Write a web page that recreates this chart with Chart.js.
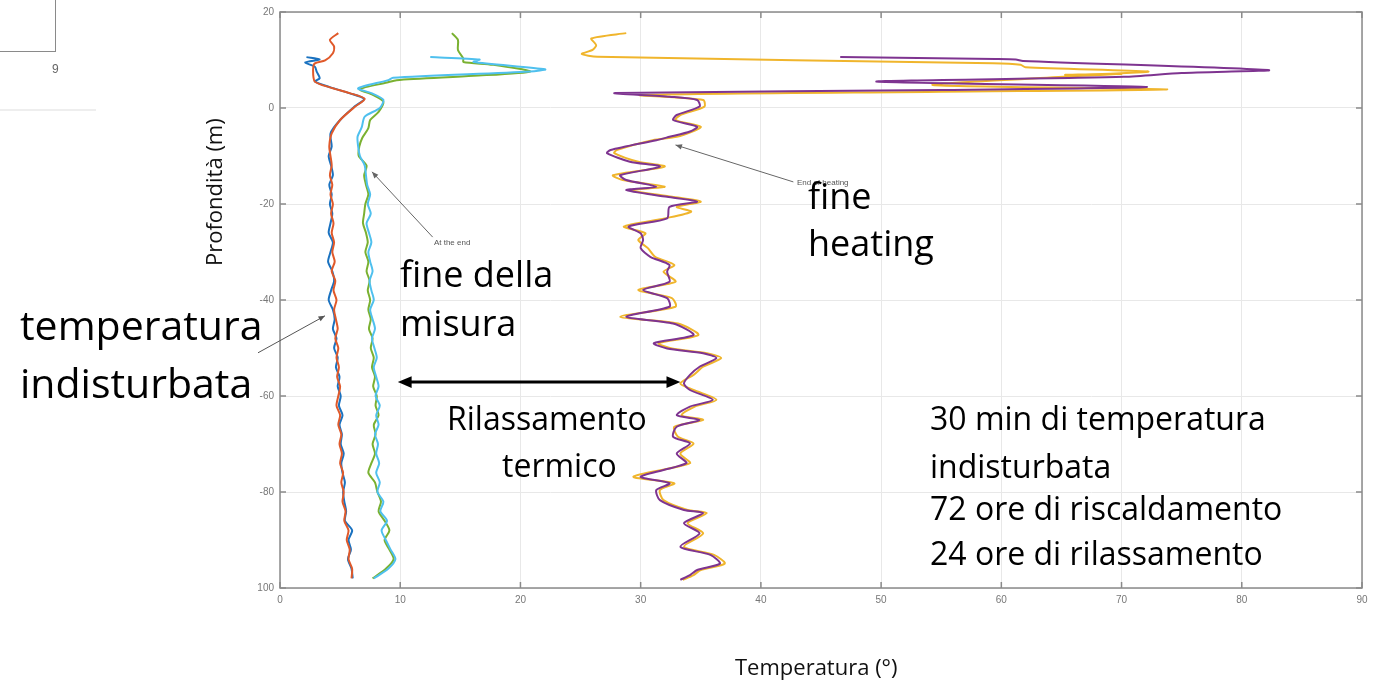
<!DOCTYPE html>
<html lang="it">
<head>
<meta charset="UTF-8">
<title>Profilo di temperatura</title>
<script src="https://cdn.jsdelivr.net/npm/chart.js"></script>
<style>
  * { margin: 0; padding: 0; }
  body { width: 1383px; height: 695px; background: #fff; position: relative; overflow: hidden; font-family: 'Open Sans', sans-serif; }
  #chart { position: absolute; left: 0; top: 0; }
  .note { position: absolute; color: #000; white-space: nowrap; line-height: 1; }
  .big { font-size: 41px; }
  .mid { font-size: 36px; }
  .small { font-size: 32px; }
  .axis-label { position: absolute; font-size: 22px; color: #111; white-space: nowrap; line-height: 1; }
  .frag-box { position: absolute; left: 0; top: 0; width: 55px; height: 51px; border-right: 1.5px solid #8a8a8a; border-bottom: 1.5px solid #8a8a8a; }
  .frag-num { position: absolute; left: 52px; top: 62px; font: 12px 'Liberation Sans', sans-serif; color: #666; }
  .frag-line { position: absolute; left: 0; top: 109px; width: 96px; height: 2px; background: #eee; }
</style>
</head>
<body>
  <canvas id="chart" width="1383" height="695"></canvas>

  <div class="frag-box"></div>
  <div class="frag-num">9</div>
  <div class="frag-line"></div>

  <div class="axis-label" id="ylab" style="left:136px; top:178px; transform: rotate(-90deg); transform-origin: 77px 11px;">Profondità (m)</div>
  <div class="axis-label" style="left:735px; top:655px;">Temperatura (°)</div>

  <div class="note big" style="left:20px; top:304px;">temperatura</div>
  <div class="note big" style="left:20px; top:362px;">indisturbata</div>

  <div class="note mid" style="left:400px; top:256px;">fine della</div>
  <div class="note mid" style="left:400px; top:305px;">misura</div>

  <div class="note mid" style="left:808px; top:178px;">fine</div>
  <div class="note mid" style="left:808px; top:225px;">heating</div>

  <div class="note small" style="left:447px; top:402px;">Rilassamento</div>
  <div class="note small" style="left:502px; top:449px;">termico</div>

  <div class="note small" style="left:930px; top:402px;">30 min di temperatura</div>
  <div class="note small" style="left:930px; top:450px;">indisturbata</div>
  <div class="note small" style="left:930px; top:492px;">72 ore di riscaldamento</div>
  <div class="note small" style="left:930px; top:537px;">24 ore di rilassamento</div>

<script>
// common depth grid (m) for the lower part of the slow profiles
const gridDepth = [-8, -10, -12, -14, -16, -18, -20, -22, -24, -26, -28, -30, -32, -34, -36, -38, -40, -42, -44, -46,
  -48, -50, -52, -54, -56, -58, -60, -62, -64, -66, -68, -70, -72, -74, -76, -78, -80, -82, -84, -86,
  -88, -90, -92, -94, -96, -98];

// undisturbed temperature (blue)
const blueTopDepth = [10.6, 10.1, 9.5, 8.6, 7.6, 6.2, 5.5, 4.3, 3.1, 1.9, 0.3, -2.5, -5.3];
const blueTopTemp  = [2.2, 3.3, 2.1, 2.9, 3.05, 3.3, 2.9, 4.2, 5.75, 7.0, 6.2, 5.0, 4.2];
const blueTemp = [4.3, 4.05, 4.25, 4.4, 4.1, 4.3, 4.15, 4.35, 4.2, 4.05, 4.4, 4.2, 4.0, 4.35, 4.5, 4.25, 4.05, 4.4, 4.55, 4.4,
  4.7, 4.5, 4.8, 4.65, 4.95, 4.8, 5.05, 4.9, 5.2, 4.95, 5.15, 5.05, 5.3, 5.1, 5.2, 5.4, 5.25, 5.35, 5.5, 5.4,
  6.0, 5.7, 5.9, 5.65, 5.95, 6.05];

// undisturbed temperature (orange)
const orangeTopDepth = [15.6, 14.2, 12.8, 11.4, 9.9, 9.3, 7.9, 5.5, 4.3, 3.1, 1.9, 0.3, -2.5, -5.3];
const orangeTopTemp  = [4.85, 4.15, 4.5, 4.4, 3.75, 2.9, 2.75, 2.9, 4.15, 5.8, 7.05, 6.25, 5.0, 4.3];
const orangeTemp = [4.1, 4.2, 4.3, 4.15, 4.35, 4.2, 4.4, 4.25, 4.45, 4.3, 4.5, 4.35, 4.55, 4.3, 4.6, 4.45, 4.7, 4.5, 4.65, 4.8,
  4.6, 4.85, 4.7, 4.9, 4.75, 5.0, 4.85, 4.7, 5.0, 4.85, 5.1, 4.95, 5.15, 5.0, 5.25, 5.1, 5.3, 5.2, 5.45, 5.35,
  5.7, 5.55, 5.8, 5.7, 6.0, 5.95];

// end of measurement (green)
const greenTopDepth = [15.6, 14.2, 12.1, 10.3, 9.6, 9.0, 7.6, 6.7, 5.8, 5.3, 3.9, 2.7, 1.3, -0.8, -2.5, -4.2, -6.2];
const greenTopTemp  = [14.3, 14.8, 14.8, 15.25, 15.25, 17.7, 20.8, 16.1, 9.7, 8.9, 6.65, 7.76, 8.6, 8.2, 7.5, 7.35, 6.85];
const greenTemp = [6.6, 6.55, 7.2, 7.0, 7.15, 7.35, 7.1, 7.0, 6.9, 7.15, 7.3, 7.1, 7.35, 7.2, 7.45, 7.3, 7.5, 7.35, 7.55, 7.4,
  7.7, 7.55, 7.8, 7.65, 7.9, 7.75, 8.05, 7.95, 8.2, 7.8, 7.95, 7.7, 7.9, 7.6, 7.35, 7.9, 8.1, 8.4, 8.2, 8.7,
  9.1, 8.7, 9.1, 9.45, 8.8, 7.7];

// end of measurement (light blue)
const cyanTopDepth = [10.6, 10.1, 9.6, 8.06, 7.6, 6.3, 5.8, 4.1, 3.1, 1.7, 0, -1.8, -4, -6];
const cyanTopTemp  = [12.5, 16.6, 16.1, 22.05, 20.8, 9.4, 9.0, 6.5, 7.6, 8.6, 8.3, 7.05, 6.8, 6.45];
const cyanTemp = [6.5, 6.65, 7.05, 7.15, 7.25, 7.5, 7.3, 7.55, 7.2, 7.4, 7.6, 7.35, 7.5, 7.7, 7.45, 7.6, 7.8, 7.5, 7.7, 7.9,
  7.65, 7.85, 8.05, 7.8, 8.0, 8.2, 7.95, 8.3, 8.0, 8.2, 7.9, 8.15, 8.0, 8.25, 8.0, 8.3, 8.1, 8.6, 8.35, 8.9,
  8.45, 8.8, 9.2, 9.6, 9.0, 7.8];

// end of heating (purple)
const purpleDepth = [10.6, 10.2, 10.1, 9.8, 7.9, 7.3, 6.5, 5.5, 4.4, 3.75, 3.1, 2.35, 1.67, 0.3, -1.46, -2.5, -3.9, -4.9, -6.0, -6.7,
  -8.75, -9.4, -11.2, -12.2, -14.0, -15, -16.4, -17.1, -18.5, -19.5, -20.6, -23, -24.7, -26.1, -27.5, -29.2, -31, -32.7, -34.1, -36.2,
  -37.9, -39.6, -41.4, -43.5, -44.9, -47.3, -49, -50.1, -51.1, -52.1, -53.9, -55.6, -57.4, -58.75, -60.8, -62.2, -64, -65, -66.4, -68.5,
  -69.9, -72, -74, -76.8, -78.2, -79.6, -81.7, -83.75, -84.4, -86.5, -88.6, -91.4, -93.1, -94.9, -96.25, -97.3, -98.3];
const purpleTemp = [46.6, 59.5, 61.2, 61.8, 82.2, 75, 70.2, 49.6, 72.1, 55, 27.9, 32.4, 34.7, 34.9, 33.0, 32.7, 34.7, 34.1, 32.4, 31.3,
  27.5, 27.2, 29.1, 31.6, 28.3, 28.8, 31.3, 28.8, 32.2, 34.7, 32.4, 32.2, 29.0, 30.0, 30.2, 30.0, 30.8, 32.4, 32.2, 32.4,
  30.2, 32.2, 32.4, 28.8, 32.7, 34.4, 31.1, 32.2, 35.2, 36.3, 34.9, 34.1, 33.6, 34.1, 36.0, 34.1, 33.0, 34.9, 33.0, 32.7,
  34.1, 33.0, 33.8, 30.0, 32.4, 31.3, 31.6, 33.6, 35.2, 33.6, 34.9, 33.3, 35.8, 36.6, 34.7, 34.1, 33.3];

// end of heating (yellow)
const yellowDepth = [15.6, 14.5, 13.1, 12.1, 11.25, 10.7, 9.3, 9.0, 8.5, 7.6, 7.2, 6.9, 7.1, 6.6, 4.8, 3.9, 3.4, 2.7, 1.67, 0.3,
  -1.46, -2.5, -3.9, -4.9, -6.0, -6.7, -8.75, -9.4, -11.2, -12.2, -14.0, -15, -16.4, -17.1, -18.5, -19.5, -20.6, -21.6, -23, -24.7,
  -26.1, -27.5, -29.2, -31, -32.7, -34.1, -36.2, -37.9, -39.6, -41.4, -43.5, -44.9, -47.3, -49, -50.1, -51.1, -52.1, -53.9, -55.6, -57.4,
  -58.75, -60.8, -62.2, -64, -65, -66.4, -68.5, -69.9, -72, -74, -76.8, -78.2, -79.6, -81.7, -83.75, -84.4, -86.5, -88.6, -91.4, -93.1,
  -94.9, -96.25, -97.3, -98.3];
const yellowTemp = [28.8, 25.9, 26.3, 26.0, 25.1, 26.4, 59.3, 61.6, 62.0, 72.2, 69.5, 65.3, 70.0, 66.0, 54.3, 73.8, 55.0, 30.0, 35.2, 35.3,
  33.3, 32.9, 35.0, 34.3, 33.0, 31.0, 28.0, 27.8, 29.8, 32.0, 27.7, 28.5, 32.0, 29.2, 32.6, 35.0, 33.0, 34.2, 32.0, 28.6,
  30.4, 29.8, 30.6, 31.2, 32.8, 31.9, 32.9, 29.8, 32.6, 32.9, 28.3, 33.1, 34.8, 31.5, 32.6, 35.5, 36.7, 35.2, 34.4, 33.3,
  34.4, 36.3, 34.5, 33.4, 35.2, 32.8, 33.1, 34.4, 33.3, 34.1, 29.4, 32.8, 31.6, 31.9, 33.9, 35.5, 33.9, 35.2, 33.6, 36.1,
  37.0, 35.0, 34.4, 33.5];

function profile(depths, temps) {
  return depths.map((d, i) => ({ x: temps[i], y: d }));
}

// annotation arrows, in data units (temperature, depth)
const notes = [
  { from: [-1.83, -51.0], to: [3.74, -43.3], color: '#555', width: 1, head: 7 },
  { from: [12.7, -26.9], to: [7.65, -13.3], color: '#666', width: 1, head: 7 },
  { from: [42.7, -15.4], to: [32.9, -7.7], color: '#666', width: 1, head: 7 }
];
const smallTexts = [
  { text: 'At the end', at: [12.8, -28.1] },
  { text: 'End of heating', at: [43.0, -15.6] }
];
const relaxArrow = { from: 9.8, to: 33.3, depth: -57.1 };

function arrowHead(ctx, x1, y1, x2, y2, size) {
  const a = Math.atan2(y2 - y1, x2 - x1);
  ctx.beginPath();
  ctx.moveTo(x2, y2);
  ctx.lineTo(x2 - size * Math.cos(a - 0.4), y2 - size * Math.sin(a - 0.4));
  ctx.lineTo(x2 - size * Math.cos(a + 0.4), y2 - size * Math.sin(a + 0.4));
  ctx.closePath();
  ctx.fill();
}

const frameAndNotes = {
  id: 'frameAndNotes',
  afterDatasetsDraw(chart) {
    const { ctx, chartArea: a, scales: { x, y } } = chart;
    ctx.save();
    // box + inner ticks
    ctx.strokeStyle = '#8a8a8a';
    ctx.lineWidth = 1.5;
    ctx.strokeRect(a.left, a.top, a.right - a.left, a.bottom - a.top);
    ctx.beginPath();
    x.ticks.forEach(t => {
      const px = x.getPixelForValue(t.value);
      ctx.moveTo(px, a.top); ctx.lineTo(px, a.top + 6);
      ctx.moveTo(px, a.bottom); ctx.lineTo(px, a.bottom - 6);
    });
    y.ticks.forEach(t => {
      const py = y.getPixelForValue(t.value);
      ctx.moveTo(a.left, py); ctx.lineTo(a.left + 6, py);
      ctx.moveTo(a.right, py); ctx.lineTo(a.right - 6, py);
    });
    ctx.stroke();

    // thin grey pointers
    notes.forEach(n => {
      const x1 = x.getPixelForValue(n.from[0]), y1 = y.getPixelForValue(n.from[1]);
      const x2 = x.getPixelForValue(n.to[0]), y2 = y.getPixelForValue(n.to[1]);
      ctx.strokeStyle = n.color; ctx.fillStyle = n.color; ctx.lineWidth = n.width;
      ctx.beginPath(); ctx.moveTo(x1, y1); ctx.lineTo(x2, y2); ctx.stroke();
      arrowHead(ctx, x1, y1, x2, y2, n.head);
    });

    ctx.fillStyle = '#555';
    ctx.font = "8px 'Liberation Sans', sans-serif";
    ctx.textBaseline = 'middle';
    smallTexts.forEach(s => {
      ctx.fillText(s.text, x.getPixelForValue(s.at[0]), y.getPixelForValue(s.at[1]));
    });

    // double arrow for the thermal relaxation
    const ax1 = x.getPixelForValue(relaxArrow.from), ax2 = x.getPixelForValue(relaxArrow.to);
    const ay = y.getPixelForValue(relaxArrow.depth);
    ctx.strokeStyle = '#000'; ctx.fillStyle = '#000'; ctx.lineWidth = 3;
    ctx.beginPath(); ctx.moveTo(ax1 + 10, ay); ctx.lineTo(ax2 - 10, ay); ctx.stroke();
    arrowHead(ctx, ax2, ay, ax1, ay, 15);
    arrowHead(ctx, ax1, ay, ax2, ay, 15);
    ctx.restore();
  }
};

const ctx = document.getElementById('chart').getContext('2d');
new Chart(ctx, {
  type: 'scatter',
  data: {
    datasets: [
      { data: profile(orangeTopDepth.concat(gridDepth), orangeTopTemp.concat(orangeTemp)), borderColor: '#E0592A' },
      { data: profile(blueTopDepth.concat(gridDepth), blueTopTemp.concat(blueTemp)), borderColor: '#1A72C0' },
      { data: profile(cyanTopDepth.concat(gridDepth), cyanTopTemp.concat(cyanTemp)), borderColor: '#4FC0EE' },
      { data: profile(greenTopDepth.concat(gridDepth), greenTopTemp.concat(greenTemp)), borderColor: '#7AB131' },
      { data: profile(purpleDepth, purpleTemp), borderColor: '#7E3490' },
      { data: profile(yellowDepth, yellowTemp), borderColor: '#F0B52C' }
    ]
  },
  options: {
    responsive: false,
    animation: false,
    layout: { padding: { top: 12, right: 21, left: 0, bottom: 0 } },
    plugins: { legend: { display: false }, tooltip: { enabled: false } },
    datasets: { scatter: { showLine: true, pointRadius: 0, borderWidth: 2, tension: 0.25 } },
    scales: {
      x: {
        type: 'linear', min: 0, max: 90,
        ticks: { stepSize: 10, padding: 6, maxRotation: 0, color: '#777', font: { family: 'Liberation Sans', size: 10 } },
        grid: { color: '#e8e8e8', drawTicks: false },
        border: { display: false },
        afterFit: s => { s.height = 107; }
      },
      y: {
        type: 'linear', min: -100, max: 20,
        ticks: { stepSize: 20, padding: 6, color: '#777', font: { family: 'Liberation Sans', size: 10 },
          callback: v => v === -100 ? '100' : v },
        grid: { color: '#e8e8e8', drawTicks: false },
        border: { display: false },
        afterFit: s => { s.width = 280; }
      }
    }
  },
  plugins: [frameAndNotes]
});
</script>
</body>
</html>
